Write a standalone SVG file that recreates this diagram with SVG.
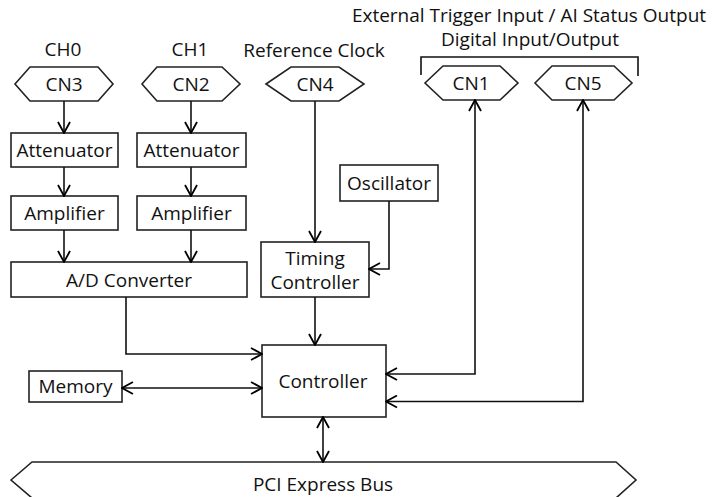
<svg xmlns="http://www.w3.org/2000/svg" width="725" height="497" viewBox="0 0 725 497">
<defs>
<marker id="arr" viewBox="0 0 14 14" refX="13" refY="7" markerWidth="14" markerHeight="14" markerUnits="userSpaceOnUse" orient="auto-start-reverse">
<path d="M2,1 L13,7 L2,13" fill="none" stroke="#000" stroke-width="1.8"/>
</marker>
</defs>
<style>
.box{fill:#fff;stroke:#222;stroke-width:1.6}
.hex{fill:#fff;stroke:#222;stroke-width:1.6}
.t{font-family:"Open Sans","Noto Sans",sans-serif;font-size:19px;fill:#111;text-anchor:middle;dominant-baseline:central}
.c{fill:none;stroke:#111;stroke-width:1.6}
</style>
<rect width="725" height="497" fill="#fff"/>
<g id="labels">
<text class="t" x="63" y="49">CH0</text>
<text class="t" x="190" y="49">CH1</text>
<text class="t" x="314" y="50">Reference Clock</text>
<text class="t" x="529" y="15">External Trigger Input / AI Status Output</text>
<text class="t" x="530" y="39">Digital Input/Output</text>
<path class="c" d="M421,75 V57 H638 V76"/>
</g>
<g id="cn3"><polygon class="hex" points="15,84 30,67 98,67 113,84 98,101 30,101"/><text class="t" x="64" y="84">CN3</text></g>
<g id="cn2"><polygon class="hex" points="142,84 157,67 222,67 240,84 222,101 157,101"/><text class="t" x="191" y="84">CN2</text></g>
<g id="cn4"><polygon class="hex" points="266,84 291,67 339,67 364,84 339,101 291,101"/><text class="t" x="315" y="84">CN4</text></g>
<g id="cn1"><polygon class="hex" points="425,83 443,66 500,66 518,83 500,100 443,100"/><text class="t" x="471" y="83">CN1</text></g>
<g id="cn5"><polygon class="hex" points="535,83 552,66 614,66 632,83 614,100 552,100"/><text class="t" x="583" y="83">CN5</text></g>
<g id="att1"><rect class="box" x="11" y="133" width="107" height="34"/><text class="t" x="64.5" y="150">Attenuator</text></g>
<g id="att2"><rect class="box" x="137" y="133" width="109" height="34"/><text class="t" x="191.5" y="150">Attenuator</text></g>
<g id="amp1"><rect class="box" x="11" y="196" width="107" height="34"/><text class="t" x="64.5" y="213">Amplifier</text></g>
<g id="amp2"><rect class="box" x="137" y="196" width="109" height="34"/><text class="t" x="191.5" y="213">Amplifier</text></g>
<g id="adc"><rect class="box" x="11" y="262" width="236" height="35"/><text class="t" x="129" y="280">A/D Converter</text></g>
<g id="osc"><rect class="box" x="340" y="165" width="98" height="36"/><text class="t" x="389" y="183">Oscillator</text></g>
<g id="timing"><rect class="box" x="261" y="242" width="108" height="55"/><text class="t" x="315" y="258">Timing</text><text class="t" x="315" y="282">Controller</text></g>
<g id="controller"><rect class="box" x="262" y="345" width="124" height="72"/><text class="t" x="323" y="381">Controller</text></g>
<g id="memory"><rect class="box" x="29" y="371" width="93" height="31"/><text class="t" x="75.5" y="386">Memory</text></g>
<g id="bus"><polygon class="hex" points="11,480 32,462 616,462 636,480 616,498 32,498"/><text class="t" x="323" y="484">PCI Express Bus</text></g>
<g id="connectors">
<path class="c" d="M64,101 V133" marker-end="url(#arr)"/>
<path class="c" d="M191,101 V133" marker-end="url(#arr)"/>
<path class="c" d="M64,167 V196" marker-end="url(#arr)"/>
<path class="c" d="M191,167 V196" marker-end="url(#arr)"/>
<path class="c" d="M64,230 V262" marker-end="url(#arr)"/>
<path class="c" d="M191,230 V262" marker-end="url(#arr)"/>
<path class="c" d="M315,101 V242" marker-end="url(#arr)"/>
<path class="c" d="M389,201 V269 H369" marker-end="url(#arr)"/>
<path class="c" d="M315,297 V345" marker-end="url(#arr)"/>
<path class="c" d="M126,297 V354 H262" marker-end="url(#arr)"/>
<path class="c" d="M122,388 H262" marker-start="url(#arr)" marker-end="url(#arr)"/>
<path class="c" d="M475,100 V374 H386" marker-start="url(#arr)" marker-end="url(#arr)"/>
<path class="c" d="M583,100 V401.5 H386" marker-start="url(#arr)" marker-end="url(#arr)"/>
<path class="c" d="M323,417 V462" marker-start="url(#arr)" marker-end="url(#arr)"/>
</g>
</svg>
